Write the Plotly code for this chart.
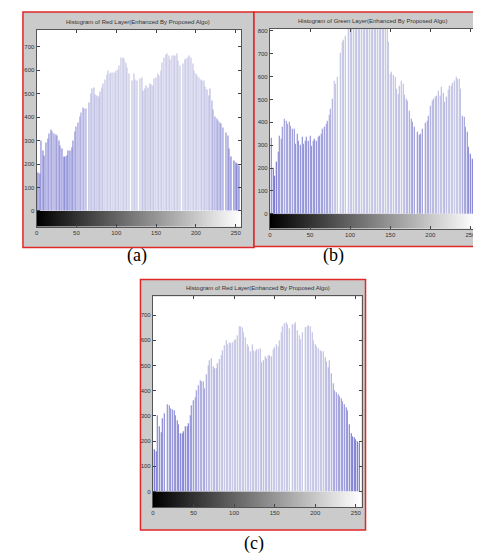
import plotly.graph_objects as go

# ---------------- data ----------------
bins = list(range(0, 256, 2))

red_vals = [180, 165, 160, 300, 258, 235, 290, 310, 330, 347, 340, 330, 325, 322, 300, 280,
            265, 232, 230, 237, 258, 258, 268, 300, 340, 360, 375, 400, 420, 440, 438, 435,
            407, 463, 500, 520, 527, 495, 490, 489, 510, 525, 541, 560, 580, 598, 584, 590,
            588, 590, 598, 603, 620, 654, 655, 650, 633, 610, 585, 576, 555, 584, 560, 555,
            562, 565, 569, 513, 520, 534, 527, 541, 538, 534, 562, 570, 584, 576, 600, 633,
            654, 665, 669, 662, 647, 660, 662, 662, 669, 640, 619, 605, 630, 647, 650, 654,
            660, 654, 630, 600, 585, 576, 569, 560, 555, 555, 530, 515, 492, 520, 470, 430,
            400, 392, 385, 378, 371, 357, 345, 335, 322, 265, 230, 220, 215, 205, 200, 195]

green_vals = [458, 330, 200, 167, 225, 269, 342, 327, 378, 414, 405, 393, 400, 385, 371, 372,
              305, 349, 320, 300, 334, 305, 320, 334, 320, 342, 298, 320, 327, 320, 334, 342,
              349, 371, 380, 393, 407, 430, 458, 502, 582, 567, 600, 655, 705, 749, 760, 778,
              800, 830, 860, 900, 920, 950, 940, 960, 930, 950, 920, 940, 900, 930, 910, 890,
              900, 880, 870, 860, 880, 850, 860, 840, 830, 820, 749, 611, 618, 605, 596, 545,
              524, 560, 582, 567, 520, 502, 494, 450, 414, 400, 378, 365, 356, 345, 349, 371,
              378, 395, 407, 429, 473, 494, 502, 510, 516, 538, 516, 553, 530, 487, 509, 540,
              560, 560, 570, 582, 596, 590, 589, 545, 429, 422, 380, 356, 291, 262, 240, 225]

x_ticks = [0, 50, 100, 150, 200, 250]
y_ticks_red = [0, 100, 200, 300, 400, 500, 600, 700]
y_ticks_green = [0, 100, 200, 300, 400, 500, 600, 700, 800]

title_red = "Histogram of Red Layer(Enhanced By Proposed Algo)"
title_green = "Histogram of Green Layer(Enhanced By Proposed Algo)"
captions = ["(a)", "(b)", "(c)"]

# ---------------- layout helpers ----------------
W, H = 481, 553


def px(p):
    return p / W


def py(p):
    return 1 - p / H


def bar_colors(vals):
    cols = []
    for v in vals:
        t = min(max((v - 170) / 400.0, 0), 1)
        r = int(35 + t * (165 - 35))
        g = int(35 + t * (165 - 35))
        b = int(185 + t * (215 - 185))
        cols.append(f"rgb({r},{g},{b})")
    return cols


panels = [
    dict(vals=red_vals, yt=y_ticks_red, title=title_red,
         plot=(26.7, 232.3, 20.7, 218), yr=(-67, 773),
         box=(13, 245, 3, 239), tpos=(129, 13), cap=captions[0], cpos=(128, 247)),
    dict(vals=green_vals, yt=y_ticks_green, title=title_green,
         plot=(261, 468, 20, 220), yr=(-65, 808),
         box=(245, 481, 3, 238), tpos=(364, 12), cap=captions[1], cpos=(325, 247)),
    dict(vals=red_vals, yt=y_ticks_red, title=title_red,
         plot=(143.5, 353, 288, 499), yr=(-62, 774),
         box=(131, 357, 271, 522), tpos=(249, 280), cap=captions[2], cpos=(245, 535)),
]

fig = go.Figure()
shapes = []
annotations = []
layout_axes = {}

for i, p in enumerate(panels, start=1):
    xa = "x" if i == 1 else f"x{i}"
    ya = "y" if i == 1 else f"y{i}"
    x0, x1, y0, y1 = p["plot"]
    bx0, bx1, by0, by1 = p["box"]

    shapes.append(dict(type="rect", xref="paper", yref="paper",
                       x0=px(bx0), x1=px(bx1), y0=py(by1), y1=py(by0),
                       fillcolor="#cbcbcb", line=dict(color="#e02828", width=1.5),
                       layer="below"))
    shapes.append(dict(type="rect", xref=f"{xa} domain", yref=f"{ya} domain",
                       x0=0, x1=1, y0=0, y1=1, fillcolor="white",
                       line=dict(width=0), layer="below"))

    fig.add_trace(go.Heatmap(
        x=list(range(257)), y=[p["yr"][0], 0], z=[list(range(256))],
        colorscale=[[0, "#000000"], [1, "#ffffff"]], showscale=False,
        hoverinfo="skip", xaxis=xa, yaxis=ya))

    fig.add_trace(go.Bar(
        x=bins, y=p["vals"], width=1.2, base=0,
        marker=dict(color=bar_colors(p["vals"]),
                    line=dict(width=0.25, color="white")),
        xaxis=xa, yaxis=ya, showlegend=False))

    axfont = dict(family="Liberation Sans", size=6, color="#333333")
    layout_axes["xaxis" if i == 1 else f"xaxis{i}"] = dict(
        domain=[px(x0), px(x1)], range=[0, 257], anchor=ya,
        tickvals=x_ticks, ticks="inside", ticklen=3, tickcolor="#444444",
        showline=True, mirror="ticks", linecolor="#555555", linewidth=1,
        showgrid=False, zeroline=False, tickfont=axfont, fixedrange=True)
    layout_axes["yaxis" if i == 1 else f"yaxis{i}"] = dict(
        domain=[py(y1), py(y0)], range=list(p["yr"]), anchor=xa,
        tickvals=p["yt"], ticks="inside", ticklen=3, tickcolor="#444444",
        showline=True, mirror="ticks", linecolor="#555555", linewidth=1,
        showgrid=False, zeroline=False, tickfont=axfont, fixedrange=True)

    annotations.append(dict(text=p["title"], xref="paper", yref="paper",
                            x=px(p["tpos"][0]), y=py(p["tpos"][1]),
                            xanchor="center", yanchor="middle", showarrow=False,
                            font=dict(family="Liberation Sans", size=6, color="#333333")))
    annotations.append(dict(text=p["cap"], xref="paper", yref="paper",
                            x=px(p["cpos"][0]), y=py(p["cpos"][1]),
                            xanchor="center", yanchor="middle", showarrow=False,
                            font=dict(family="Liberation Serif", size=18, color="#000000")))

fig.update_layout(
    width=W, height=H, margin=dict(l=0, r=0, t=0, b=0),
    paper_bgcolor="white", plot_bgcolor="rgba(0,0,0,0)",
    shapes=shapes, annotations=annotations, showlegend=False,
    bargap=0, **layout_axes)

fig.write_html("out.html")
